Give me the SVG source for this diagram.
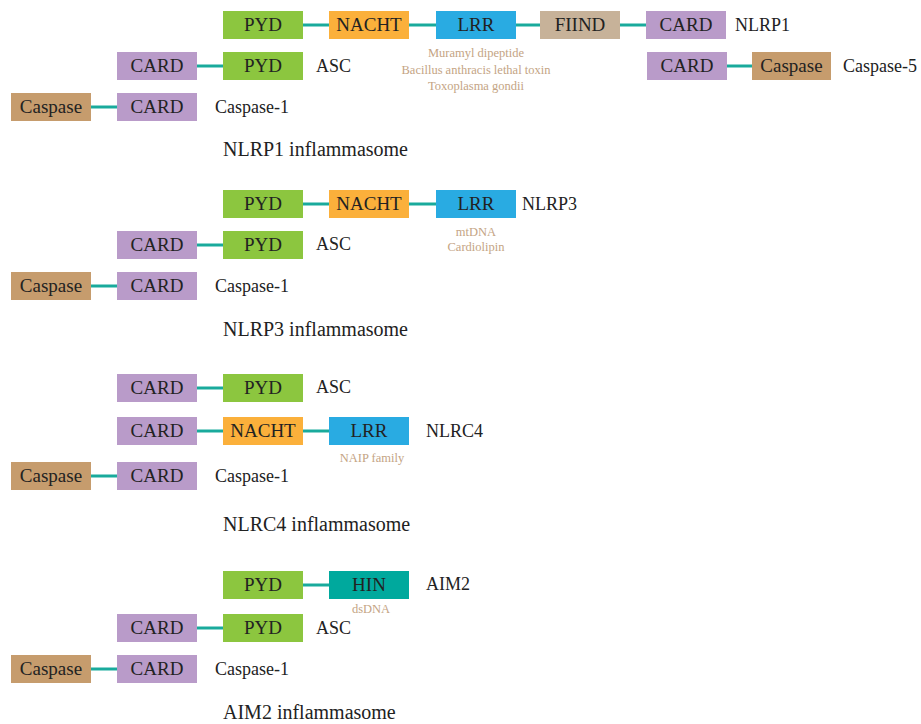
<svg xmlns="http://www.w3.org/2000/svg" width="921" height="724" viewBox="0 0 921 724">
<style>
.pyd{fill:#8cc63f}.nacht{fill:#fbb03b}.lrr{fill:#29abe2}.fiind{fill:#c7b299}.card{fill:#b99bc9}.casp{fill:#c69c6d}.hin{fill:#00a99d}
text{font-family:"Liberation Serif","Times New Roman",serif}
.bt{font-size:19px;fill:#222;text-anchor:middle}
.lb{font-size:18px;fill:#222}
.ti{font-size:20px;fill:#222}
.lg{font-size:12.5px;fill:#c4a484;text-anchor:middle}
.c line{stroke:#19aa9c;stroke-width:3}
</style>
<rect width="921" height="724" fill="#fff"/>
<g class="c" id="connectors">
<line x1="303" y1="25" x2="329" y2="25"/><line x1="409" y1="25" x2="436" y2="25"/><line x1="516" y1="25" x2="540" y2="25"/><line x1="620" y1="25" x2="646" y2="25"/>
<line x1="197" y1="66" x2="223" y2="66"/><line x1="727" y1="66" x2="752" y2="66"/>
<line x1="91" y1="107" x2="117" y2="107"/>
<line x1="303" y1="204" x2="329" y2="204"/><line x1="409" y1="204" x2="436" y2="204"/>
<line x1="197" y1="245" x2="223" y2="245"/>
<line x1="91" y1="286" x2="117" y2="286"/>
<line x1="197" y1="388" x2="223" y2="388"/>
<line x1="197" y1="431" x2="223" y2="431"/><line x1="303" y1="431" x2="329" y2="431"/>
<line x1="91" y1="476" x2="117" y2="476"/>
<line x1="303" y1="585" x2="329" y2="585"/>
<line x1="197" y1="628" x2="223" y2="628"/>
<line x1="91" y1="669" x2="117" y2="669"/>
</g>
<g id="nlrp1">
<rect class="pyd" x="223" y="11" width="80" height="28"/><text class="bt" x="263" y="31">PYD</text>
<rect class="nacht" x="329" y="11" width="80" height="28"/><text class="bt" x="369" y="31">NACHT</text>
<rect class="lrr" x="436" y="11" width="80" height="28"/><text class="bt" x="476" y="31">LRR</text>
<rect class="fiind" x="540" y="11" width="80" height="28"/><text class="bt" x="580" y="31">FIIND</text>
<rect class="card" x="646" y="11" width="80" height="28"/><text class="bt" x="686" y="31">CARD</text>
<text class="lb" x="735" y="31">NLRP1</text>
<text class="lg" x="476" y="57">Muramyl dipeptide</text>
<text class="lg" x="476" y="74">Bacillus anthracis lethal toxin</text>
<text class="lg" x="476" y="90">Toxoplasma gondii</text>
</g>
<g id="asc1">
<rect class="card" x="117" y="52" width="80" height="28"/><text class="bt" x="157" y="72">CARD</text>
<rect class="pyd" x="223" y="52" width="80" height="28"/><text class="bt" x="263" y="72">PYD</text>
<text class="lb" x="316" y="72">ASC</text>
</g>
<g id="casp5">
<rect class="card" x="647" y="52" width="80" height="28"/><text class="bt" x="687" y="72">CARD</text>
<rect class="casp" x="752" y="52" width="79" height="28"/><text class="bt" x="791.5" y="72">Caspase</text>
<text class="lb" x="843" y="72">Caspase-5</text>
</g>
<g id="casp1a">
<rect class="casp" x="11" y="93" width="80" height="28"/><text class="bt" x="51" y="113">Caspase</text>
<rect class="card" x="117" y="93" width="80" height="28"/><text class="bt" x="157" y="113">CARD</text>
<text class="lb" x="215" y="113">Caspase-1</text>
</g>
<text class="ti" x="223" y="156">NLRP1 inflammasome</text>
<g id="nlrp3">
<rect class="pyd" x="223" y="190" width="80" height="28"/><text class="bt" x="263" y="210">PYD</text>
<rect class="nacht" x="329" y="190" width="80" height="28"/><text class="bt" x="369" y="210">NACHT</text>
<rect class="lrr" x="436" y="190" width="80" height="28"/><text class="bt" x="476" y="210">LRR</text>
<text class="lb" x="522" y="210">NLRP3</text>
<text class="lg" x="476" y="236">mtDNA</text>
<text class="lg" x="476" y="251">Cardiolipin</text>
</g>
<g id="asc3">
<rect class="card" x="117" y="231" width="80" height="28"/><text class="bt" x="157" y="251">CARD</text>
<rect class="pyd" x="223" y="231" width="80" height="28"/><text class="bt" x="263" y="251">PYD</text>
<text class="lb" x="316" y="250">ASC</text>
</g>
<g id="casp1b">
<rect class="casp" x="11" y="272" width="80" height="28"/><text class="bt" x="51" y="292">Caspase</text>
<rect class="card" x="117" y="272" width="80" height="28"/><text class="bt" x="157" y="292">CARD</text>
<text class="lb" x="215" y="292">Caspase-1</text>
</g>
<text class="ti" x="223" y="336">NLRP3 inflammasome</text>
<g id="asc4">
<rect class="card" x="117" y="374" width="80" height="28"/><text class="bt" x="157" y="394">CARD</text>
<rect class="pyd" x="223" y="374" width="80" height="28"/><text class="bt" x="263" y="394">PYD</text>
<text class="lb" x="316" y="393">ASC</text>
</g>
<g id="nlrc4">
<rect class="card" x="117" y="417" width="80" height="28"/><text class="bt" x="157" y="437">CARD</text>
<rect class="nacht" x="223" y="417" width="80" height="28"/><text class="bt" x="263" y="437">NACHT</text>
<rect class="lrr" x="329" y="417" width="80" height="28"/><text class="bt" x="369" y="437">LRR</text>
<text class="lb" x="426" y="437">NLRC4</text>
<text class="lg" x="372" y="462">NAIP family</text>
</g>
<g id="casp1c">
<rect class="casp" x="11" y="462" width="80" height="28"/><text class="bt" x="51" y="482">Caspase</text>
<rect class="card" x="117" y="462" width="80" height="28"/><text class="bt" x="157" y="482">CARD</text>
<text class="lb" x="215" y="482">Caspase-1</text>
</g>
<text class="ti" x="223" y="531">NLRC4 inflammasome</text>
<g id="aim2">
<rect class="pyd" x="223" y="571" width="80" height="28"/><text class="bt" x="263" y="591">PYD</text>
<rect class="hin" x="329" y="571" width="80" height="28"/><text class="bt" x="369" y="591">HIN</text>
<text class="lb" x="426" y="590">AIM2</text>
<text class="lg" x="371" y="613">dsDNA</text>
</g>
<g id="asc5">
<rect class="card" x="117" y="614" width="80" height="28"/><text class="bt" x="157" y="634">CARD</text>
<rect class="pyd" x="223" y="614" width="80" height="28"/><text class="bt" x="263" y="634">PYD</text>
<text class="lb" x="316" y="634">ASC</text>
</g>
<g id="casp1d">
<rect class="casp" x="11" y="655" width="80" height="28"/><text class="bt" x="51" y="675">Caspase</text>
<rect class="card" x="117" y="655" width="80" height="28"/><text class="bt" x="157" y="675">CARD</text>
<text class="lb" x="215" y="675">Caspase-1</text>
</g>
<text class="ti" x="223" y="719">AIM2 inflammasome</text>
</svg>
